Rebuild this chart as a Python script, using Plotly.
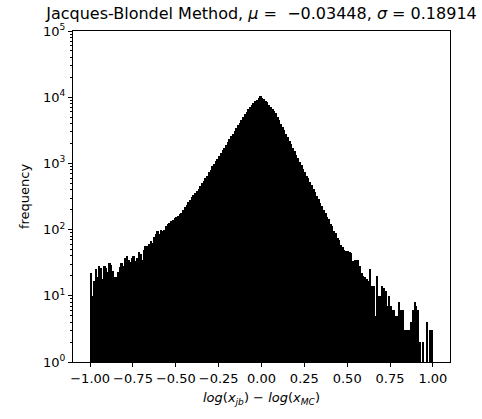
import numpy as np
import plotly.graph_objects as go

# Histogram of log(x_jb) - log(x_MC): 200 equal bins spanning [-1, 1]
bin_lo, bin_hi, n_bins = -1.0, 1.0, 200

counts = [
    22, 10, 17, 25, 19, 28, 26, 18, 28, 26,
    23, 31, 29, 24, 19, 19, 23, 27, 31, 28,
    37, 40, 35, 32, 37, 40, 33, 37, 46, 43,
    35, 49, 57, 56, 60, 68, 62, 78, 85, 95,
    85, 98, 94, 100, 112, 120, 126, 135, 141, 148,
    157, 162, 170, 178, 200, 219, 234, 257, 282, 309,
    331, 363, 389, 417, 457, 501, 550, 612, 655, 741,
    798, 902, 968, 1081, 1176, 1312, 1438, 1596, 1727, 1918,
    2098, 2331, 2556, 2829, 3077, 3401, 3742, 4135, 4558, 5027,
    5481, 6040, 6593, 7175, 7660, 8236, 8698, 9132, 9650, 10400,
    9871, 9452, 8905, 8330, 7661, 7090, 6598, 6177, 5704, 5082,
    4487, 3993, 3528, 3152, 2775, 2484, 2181, 1956, 1714, 1540,
    1349, 1213, 1060, 955, 834, 752, 655, 593, 515, 468,
    404, 369, 318, 290, 249, 229, 196, 180, 153, 143,
    121, 112, 95, 88, 75, 69, 59, 55, 49, 48,
    47, 46, 44, 33, 35, 35, 35, 28, 22, 20,
    19, 18, 17, 25, 14, 14, 5, 20, 10, 10,
    14, 13, 12, 7, 10, 7, 6, 6, 5, 5,
    8, 6, 6, 3, 3, 3, 3, 4, 6, 8,
    7, 6, 2, 0, 2, 0, 4, 0, 3, 3,
]

x_ticks = [-1.0, -0.75, -0.5, -0.25, 0.0, 0.25, 0.5, 0.75, 1.0]
x_tick_text = ["\u22121.00", "\u22120.75", "\u22120.50", "\u22120.25",
               "0.00", "0.25", "0.50", "0.75", "1.00"]
y_exponents = [0, 1, 2, 3, 4, 5]

edges = np.linspace(bin_lo, bin_hi, n_bins + 1)
centers = 0.5 * (edges[:-1] + edges[1:])
widths = np.diff(edges)

y_ticks = [10.0 ** e for e in y_exponents]
y_tick_text = [f"10<sup>{e}</sup>" for e in y_exponents]
y_minor = [m * 10.0 ** e for e in y_exponents[:-1] for m in range(2, 10)]

font = "DejaVu Sans"

fig = go.Figure(
    go.Bar(
        x=centers,
        y=counts,
        width=widths,
        marker=dict(color="black", line=dict(width=0)),
        showlegend=False,
    )
)

axis_common = dict(
    showline=True,
    linecolor="black",
    linewidth=1,
    mirror=True,
    showgrid=False,
    zeroline=False,
    ticks="outside",
    tickcolor="black",
    tickwidth=1,
    ticklen=4,
    tickfont=dict(family=font, size=13, color="black"),
)

fig.update_layout(
    width=482,
    height=419,
    margin=dict(l=73, r=32, t=31, b=57),
    paper_bgcolor="white",
    plot_bgcolor="white",
    bargap=0,
    title=dict(
        text="Jacques-Blondel Method, <i>\u03bc</i> = \u00a0\u22120.03448, <i>\u03c3</i> = 0.18914",
        font=dict(family=font, size=16, color="black"),
        x=0.5,
        xref="paper",
        xanchor="center",
        y=1 - 13 / 419,
        yref="container",
        yanchor="middle",
    ),
    xaxis=dict(
        axis_common,
        range=[-1.1, 1.1],
        tickmode="array",
        tickvals=x_ticks,
        ticktext=x_tick_text,
        title=dict(
            text="<i>log</i>(<i>x</i><sub><i>jb</i></sub>) \u2212 <i>log</i>(<i>x</i><sub><i>MC</i></sub>)",
            font=dict(family=font, size=13, color="black"),
            standoff=8,
        ),
    ),
    yaxis=dict(
        axis_common,
        type="log",
        range=[0, 5],
        tickmode="array",
        tickvals=y_ticks,
        ticktext=y_tick_text,
        minor=dict(
            tickmode="array",
            tickvals=y_minor,
            ticks="outside",
            ticklen=2,
            tickcolor="black",
            tickwidth=1,
        ),
        title=dict(
            text="frequency",
            font=dict(family=font, size=13, color="black"),
            standoff=10,
        ),
    ),
)

fig.write_html("out.html")
